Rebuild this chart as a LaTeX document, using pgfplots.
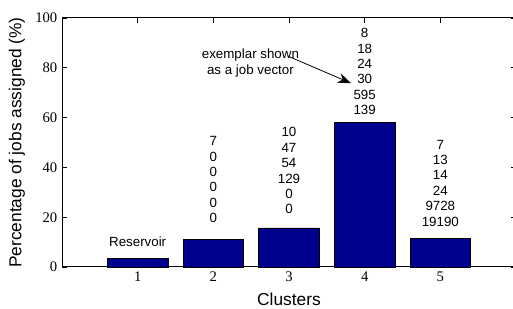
\documentclass[border=0pt]{standalone}
\usepackage{fontspec}
\setmainfont{Liberation Sans}
\newfontfamily\tickfont{Liberation Serif}
\usepackage{pgfplots}
\pgfplotsset{compat=1.18}
\usetikzlibrary{arrows.meta}
\definecolor{barblue}{RGB}{0,0,143}
\begin{document}
\begin{tikzpicture}
\begin{axis}[
  scale only axis,
  width=340.5pt, height=186.75pt,
  xmin=0, xmax=6, ymin=0, ymax=100,
  xtick={1,2,3,4,5},
  ytick={0,20,40,60,80,100},
  tick align=inside,
  major tick length=3.5pt,
  axis line style={line width=0.75pt},
  tick style={line width=0.6pt, black},
  /pgf/number format/assume math mode=true,
  tick label style={font=\tickfont\fontsize{11}{13}\selectfont},
  xlabel={Clusters},
  ylabel={Percentage of jobs assigned (\%)},
  label style={font=\fontsize{13}{15}\selectfont},
  xlabel style={at={(axis description cs:0.5,-0.1285)}, anchor=center},
  ylabel style={at={(axis description cs:-0.0991,0.5)}, anchor=center, rotate=0},
  clip=false,
]
\addplot[ybar, bar width=0.8, fill=barblue, draw=black, line width=0.4pt]
  coordinates {(1,3.6) (2,11.2) (3,15.7) (4,58.2) (5,11.6)};
\begin{scope}[every node/.style={font=\fontsize{10}{11.55}\selectfont, align=center, inner sep=0pt}]
\node at (axis cs:1,10.0) {Reservoir};
\node at (axis cs:2,35.1) {7\\0\\0\\0\\0\\0};
\node at (axis cs:3,38.6) {10\\47\\54\\129\\0\\0};
\node at (axis cs:4,78.5) {8\\18\\24\\30\\595\\139};
\node at (axis cs:5,33.7) {7\\13\\14\\24\\9728\\19190};
\node at (axis cs:2.49,81.9) {exemplar shown\\as a job vector};
\end{scope}
\draw[-{Stealth[length=10pt,width=7.5pt]}, line width=0.6pt] (axis cs:3.0,84.5) -- (axis cs:3.82,73.8);
\end{axis}
\pgfresetboundingbox
\path[use as bounding box] (-46.5pt,-31.5pt) rectangle (338.25pt,200.25pt);
\end{tikzpicture}
\end{document}
